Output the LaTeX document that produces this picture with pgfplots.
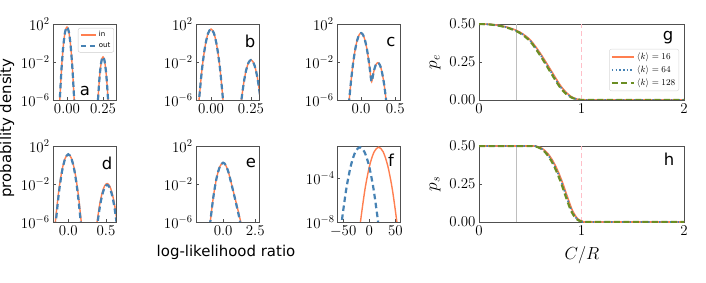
\RequirePackage{fix-cm}
\documentclass[border=0pt]{standalone}
\usepackage{fontspec}
\newfontfamily\djv{DejaVu Sans}
\usepackage{pgfplots}
\pgfplotsset{compat=1.18}
\definecolor{orC}{HTML}{FF7F50}
\definecolor{blC}{HTML}{4682B4}
\definecolor{grC}{HTML}{6B8E23}
\definecolor{pkC}{HTML}{FFBFC8}
\definecolor{gyC}{HTML}{BEBEBE}
\definecolor{frC}{RGB}{80,80,80}
\pgfplotsset{
  base/.style={scale only axis, height=76bp,
    axis line style={draw=frC, line width=0.8bp},
    tick style={draw=frC, line width=0.6bp}, major tick length=3bp,
    tick align=inside, xtick pos=bottom, ytick pos=left,
    ticklabel style={font=\fontsize{15}{16}\selectfont},
    clip=true, enlargelimits=false},
  llr/.style={base, width=63bp, ymin=-6, ymax=2, ytick={-6,-2,2},
    yticklabels={$10^{-6}$,$10^{-2}$,$10^{2}$}},
  orl/.style={color=orC, line width=1.4bp, smooth},
  bll/.style={color=blC, line width=2.2bp, dash pattern=on 5.5bp off 3.5bp, smooth},
}
\newcommand{\lab}[3]{\node[font=\djv\fontsize{16.5}{18}\selectfont] at (#1bp,#2bp) {#3};}
\begin{document}
\begin{tikzpicture}
\path[use as bounding box] (0bp,0bp) rectangle (706bp,283bp);

% ---- a ----
\begin{axis}[llr, at={(53bp,259bp)}, anchor=north west,
  xmin=-0.097, xmax=0.34, xtick={0,0.25}, xticklabels={$0.00$,$0.25$},
  legend style={font=\djv\fontsize{7}{8}\selectfont, at={(1,1)}, anchor=north east,
    xshift=-2bp, yshift=-4bp, draw=black!20, rounded corners=2bp, inner sep=1.5bp, row sep=0bp},
  legend cell align=left,
  legend image code/.code={\draw[#1] (0bp,0bp) -- (15bp,0bp);}]
\addplot[orl] coordinates {(-0.055,-7.61) (-0.05,-6) (-0.0375,-2.64) (-0.025,-0.24) (-0.0125,1.20) (0,1.68) (0.0125,1.20) (0.025,-0.24) (0.0375,-2.64) (0.05,-6) (0.055,-7.61)};
\addlegendentry{in}
\addplot[orl, forget plot] coordinates {(0.2115,-6.95) (0.215,-6) (0.22375,-4.02) (0.2325,-2.60) (0.24125,-1.75) (0.25,-1.47) (0.25875,-1.75) (0.2675,-2.60) (0.27625,-4.02) (0.285,-6) (0.2885,-6.95)};
\addplot[bll] coordinates {(-0.055,-7.61) (-0.05,-6) (-0.0375,-2.64) (-0.025,-0.24) (-0.0125,1.20) (0,1.68) (0.0125,1.20) (0.025,-0.24) (0.0375,-2.64) (0.05,-6) (0.055,-7.61)};
\addlegendentry{out}
\addplot[bll, forget plot] coordinates {(0.2115,-6.95) (0.215,-6) (0.22375,-4.02) (0.2325,-2.60) (0.24125,-1.75) (0.25,-1.47) (0.25875,-1.75) (0.2675,-2.60) (0.27625,-4.02) (0.285,-6) (0.2885,-6.95)};
\end{axis}

% ---- b ----
\begin{axis}[llr, at={(196bp,259bp)}, anchor=north west,
  xmin=-0.094, xmax=0.30, xtick={0,0.25}, xticklabels={$0.00$,$0.25$}]
\addplot[orl] coordinates {(-0.0825,-7.57) (-0.075,-6) (-0.05625,-2.73) (-0.0375,-0.40) (-0.01875,1.00) (0,1.47) (0.01875,1.00) (0.0375,-0.40) (0.05625,-2.73) (0.075,-6) (0.0825,-7.57)};
\addplot[orl] coordinates {(0.184,-6.88) (0.19,-6) (0.205,-4.16) (0.22,-2.84) (0.235,-2.05) (0.25,-1.79) (0.265,-2.05) (0.28,-2.84) (0.295,-4.16) (0.31,-6) (0.316,-6.88)};
\addplot[bll] coordinates {(-0.0825,-7.57) (-0.075,-6) (-0.05625,-2.73) (-0.0375,-0.40) (-0.01875,1.00) (0,1.47) (0.01875,1.00) (0.0375,-0.40) (0.05625,-2.73) (0.075,-6) (0.0825,-7.57)};
\addplot[bll] coordinates {(0.184,-6.88) (0.19,-6) (0.205,-4.16) (0.22,-2.84) (0.235,-2.05) (0.25,-1.79) (0.265,-2.05) (0.28,-2.84) (0.295,-4.16) (0.31,-6) (0.316,-6.88)};
\end{axis}

% ---- c ----
\begin{axis}[llr, at={(337bp,259bp)}, anchor=north west,
  xmin=-0.353, xmax=0.57, xtick={0,0.5}, xticklabels={$0.0$,$0.5$}]
\addplot[orl] coordinates {(-0.19,-7.36) (-0.174,-6) (-0.15,-4.19) (-0.12,-2.30) (-0.09,-0.84) (-0.06,0.21) (-0.03,0.84) (0,1.05) (0.03,0.84) (0.06,0.21) (0.09,-0.84) (0.12,-2.30) (0.135,-3.18) (0.145,-3.80) (0.155,-4.06) (0.165,-3.78) (0.175,-3.39) (0.19,-2.88) (0.215,-2.31) (0.245,-2.07) (0.275,-2.31) (0.30,-2.88) (0.33,-4.01) (0.35,-5.03) (0.366,-6) (0.38,-6.96)};
\addplot[bll] coordinates {(-0.19,-7.36) (-0.174,-6) (-0.15,-4.19) (-0.12,-2.30) (-0.09,-0.84) (-0.06,0.21) (-0.03,0.84) (0,1.05) (0.03,0.84) (0.06,0.21) (0.09,-0.84) (0.12,-2.30) (0.135,-3.18) (0.145,-3.80) (0.155,-4.06) (0.165,-3.78) (0.175,-3.39) (0.19,-2.88) (0.215,-2.31) (0.245,-2.07) (0.275,-2.31) (0.30,-2.88) (0.33,-4.01) (0.35,-5.03) (0.366,-6) (0.38,-6.96)};
\end{axis}

% ---- d ----
\begin{axis}[llr, at={(53bp,137bp)}, anchor=north west,
  xmin=-0.203, xmax=0.633, xtick={0,0.5}, xticklabels={$0.0$,$0.5$}]
\addplot[orl] coordinates {(-0.189,-7.50) (-0.172,-6) (-0.129,-2.88) (-0.086,-0.65) (-0.043,0.68) (0,1.13) (0.043,0.68) (0.086,-0.65) (0.129,-2.88) (0.172,-6) (0.189,-7.50)};
\addplot[orl] coordinates {(0.3687,-6.85) (0.382,-6) (0.41525,-4.23) (0.4485,-2.96) (0.48175,-2.20) (0.515,-1.95) (0.54825,-2.20) (0.5815,-2.96) (0.61475,-4.23) (0.648,-6) (0.6613,-6.85)};
\addplot[bll] coordinates {(-0.1815,-7.50) (-0.165,-6) (-0.12375,-2.88) (-0.0825,-0.65) (-0.04125,0.68) (0,1.13) (0.04125,0.68) (0.0825,-0.65) (0.12375,-2.88) (0.165,-6) (0.1815,-7.50)};
\addplot[bll] coordinates {(0.3775,-6.82) (0.39,-6) (0.42125,-4.29) (0.4525,-3.08) (0.48375,-2.34) (0.515,-2.1) (0.54625,-2.34) (0.5775,-3.08) (0.60875,-4.29) (0.64,-6) (0.6525,-6.82)};
\end{axis}

% ---- e ----
\begin{axis}[llr, at={(196bp,137bp)}, anchor=north west,
  xmin=-2.11, xmax=2.79, xtick={0,2.5}, xticklabels={$0.0$,$2.5$}]
\addplot[orl] coordinates {(-1.1,-7.31) (-1.0,-6) (-0.75,-3.27) (-0.5,-1.32) (-0.25,-0.15) (0,0.24) (0.2,-0.02) (0.4,-0.7) (0.6,-1.72) (0.8,-2.8) (1.0,-3.9) (1.2,-5.0) (1.37,-6) (1.45,-6.5)};
\addplot[bll] coordinates {(-1.1,-7.31) (-1.0,-6) (-0.75,-3.27) (-0.5,-1.32) (-0.25,-0.15) (0,0.24) (0.2,-0.02) (0.4,-0.7) (0.6,-1.75) (0.8,-2.85) (1.0,-4.0) (1.2,-5.2) (1.32,-6) (1.42,-6.6)};
\end{axis}

% ---- f ----
\begin{axis}[base, width=63bp, at={(337bp,137bp)}, anchor=north west,
  ymin=-8, ymax=-1.04, ytick={-8,-4}, yticklabels={$10^{-8}$,$10^{-4}$},
  xmin=-62, xmax=59, xtick={-50,0,50}, xticklabels={$-50$,$0$,$50$},
  yticklabel style={xshift=1bp}]
\addplot[orl] coordinates {(-20.5,-9.44) (-17,-8) (-8.25,-5.00) (0.5,-2.86) (9.25,-1.58) (18,-1.15) (26.75,-1.58) (35.5,-2.86) (44.25,-5.00) (53,-8) (56.5,-9.44)};
\addplot[bll] coordinates {(-56.5,-9.44) (-53,-8) (-44.25,-5.00) (-35.5,-2.86) (-26.75,-1.58) (-18,-1.15) (-9.25,-1.58) (-0.5,-2.86) (8.25,-5.00) (17,-8) (20.5,-9.44)};
\end{axis}

% ---- g ----
\begin{axis}[base, width=205bp, at={(479bp,259bp)}, anchor=north west,
  xmin=0, xmax=2, ymin=0, ymax=0.5, xtick={0,1,2}, xticklabels={$0$,$1$,$2$},
  ytick={0,0.25,0.5}, yticklabels={$0.00$,$0.25$,$0.50$},
  legend style={font=\fontsize{9}{10}\selectfont, at={(1,1)}, anchor=north east,
    xshift=-5bp, yshift=-25bp, draw=black!15, rounded corners=2bp, inner sep=1.5bp, row sep=1bp},
  legend cell align=left,
  legend image code/.code={\draw[#1] (0bp,0bp) -- (22bp,0bp);}]
\addplot[gyC, line width=1.8bp, forget plot] coordinates {(0.365,0) (0.365,0.5)};
\addplot[pkC, line width=1.6bp, dash pattern=on 5bp off 3bp, forget plot] coordinates {(1,0) (1,0.5)};
\addplot[orC, line width=1.6bp, smooth] coordinates {(0,0.5) (0.1,0.498) (0.2,0.49) (0.3,0.474) (0.4,0.446) (0.5,0.395) (0.6,0.305) (0.7,0.197) (0.75,0.142) (0.8,0.09) (0.85,0.05) (0.9,0.022) (0.95,0.007) (1.0,0.001) (1.05,0) (1.5,0) (2,0)};
\addlegendentry{$\langle k\rangle=16$}
\addplot[blC, line width=1.8bp, dash pattern=on 1.5bp off 2.2bp, smooth] coordinates {(0,0.5) (0.1,0.497) (0.2,0.489) (0.3,0.472) (0.4,0.443) (0.5,0.39) (0.6,0.297) (0.7,0.188) (0.75,0.133) (0.8,0.082) (0.85,0.045) (0.9,0.019) (0.95,0.006) (1.0,0.001) (1.05,0) (1.5,0) (2,0)};
\addlegendentry{$\langle k\rangle=64$}
\addplot[grC, line width=2.1bp, dash pattern=on 6bp off 3.5bp, smooth] coordinates {(0,0.5) (0.1,0.497) (0.2,0.488) (0.3,0.47) (0.4,0.44) (0.5,0.385) (0.6,0.29) (0.7,0.18) (0.75,0.125) (0.8,0.075) (0.85,0.04) (0.9,0.017) (0.95,0.005) (1.0,0.0005) (1.05,0) (1.5,0) (2,0)};
\addlegendentry{$\langle k\rangle=128$}
\end{axis}

% ---- h ----
\begin{axis}[base, width=205bp, at={(479bp,137bp)}, anchor=north west,
  xmin=0, xmax=2, ymin=0, ymax=0.5, xtick={0,1,2}, xticklabels={$0$,$1$,$2$},
  ytick={0,0.25,0.5}, yticklabels={$0.00$,$0.25$,$0.50$}]
\addplot[gyC, line width=1.8bp] coordinates {(0.365,0) (0.365,0.5)};
\addplot[pkC, line width=1.6bp, dash pattern=on 5bp off 3bp] coordinates {(1,0) (1,0.5)};
\addplot[orC, line width=1.6bp, smooth] coordinates {(0,0.5) (0.5,0.5) (0.565,0.497) (0.615,0.484) (0.665,0.455) (0.715,0.408) (0.765,0.342) (0.815,0.258) (0.865,0.16) (0.915,0.07) (0.965,0.02) (1.015,0.003) (1.06,0) (1.5,0) (2,0)};
\addplot[blC, line width=1.8bp, dash pattern=on 1.5bp off 2.2bp, smooth] coordinates {(0,0.5) (0.5,0.5) (0.557,0.497) (0.607,0.484) (0.657,0.455) (0.707,0.408) (0.757,0.342) (0.807,0.258) (0.857,0.16) (0.907,0.07) (0.957,0.02) (1.007,0.003) (1.055,0) (1.5,0) (2,0)};
\addplot[grC, line width=2.1bp, dash pattern=on 6bp off 3.5bp, smooth] coordinates {(0,0.5) (0.5,0.5) (0.55,0.497) (0.6,0.484) (0.65,0.455) (0.7,0.408) (0.75,0.342) (0.8,0.258) (0.85,0.16) (0.9,0.07) (0.95,0.02) (1.0,0.003) (1.05,0) (1.5,0) (2,0)};
\end{axis}

% labels
\lab{85}{192}{a}
\lab{250}{242}{b}
\lab{391}{241}{c}
\lab{107}{120}{d}
\lab{251}{120}{e}
\lab{391}{123}{f}
\lab{668}{245}{g}
\lab{669}{124}{h}
\node[font=\djv\fontsize{15}{16}\selectfont, rotate=90] at (7bp,155bp) {probability density};
\node[font=\djv\fontsize{15}{16}\selectfont] at (226bp,31bp) {log-likelihood ratio};
\node[font=\fontsize{17.5}{19}\selectfont] at (582bp,28bp) {$C/R$};
\node[font=\fontsize{17.5}{19}\selectfont, rotate=90] at (435bp,221bp) {$p_e$};
\node[font=\fontsize{17.5}{19}\selectfont, rotate=90] at (435bp,99bp) {$p_s$};
\end{tikzpicture}
\end{document}
